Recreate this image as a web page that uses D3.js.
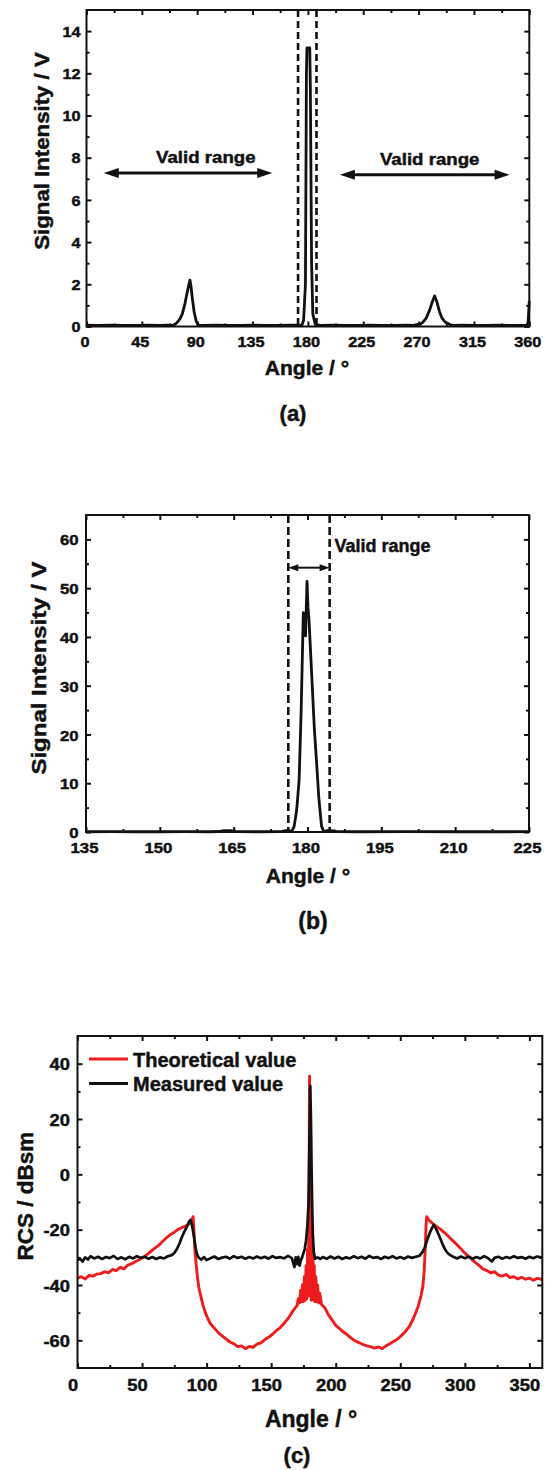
<!DOCTYPE html>
<html>
<head>
<meta charset="utf-8">
<script src="https://cdn.jsdelivr.net/npm/d3@7"></script>
<style>
  body { margin: 0; background: #fff; }
  svg { display: block; }
  text { font-family: "Liberation Sans", Arial, sans-serif; font-weight: bold; fill: #111; stroke: #111; stroke-width: 0.45px; }
</style>
</head>
<body>
<svg width="548" height="1470"></svg>
<script>
// ---- (a) signal over the full turn
let aSignal = [[0,0.06],[10,0.05],[20,0.06],[30,0.05],[40,0.05],[50,0.06],[60,0.05],[66,0.06],[70.2,0.05],[73,0.15],[75.9,0.35],[77.9,0.6],[80.1,1.1],[81.8,1.6],[83.3,2.0],[84.1,2.2],[85,1.9],[86.1,1.3],[87.5,0.7],[89.2,0.25],[91,0.05],[95,0.05],[105,0.06],[115,0.05],[125,0.05],[135,0.06],[145,0.05],[155,0.05],[165,0.06],[170,0.06],[175,0.05],[176.5,0.3],[178,2],[178.8,12],[179.2,13.2],[181.5,13.2],[182,11.3],[183,3],[184,0.6],[186,0.1],[190,0.05],[200,0.06],[210,0.05],[220,0.05],[230,0.06],[240,0.05],[250,0.05],[260,0.06],[266,0.05],[269,0.1],[271,0.08],[273.4,0.2],[276.2,0.4],[279.1,0.8],[281.3,1.2],[283,1.45],[284.7,1.2],[287,0.7],[289,0.4],[291.8,0.2],[296,0.08],[299,0.05],[305,0.06],[315,0.05],[325,0.05],[335,0.06],[345,0.05],[355,0.05],[358,0.05],[359,0.2],[360,1.2]]
let aXTicks = [0, 45, 90, 135, 180, 225, 270, 315, 360]
let aYTicks = [0, 2, 4, 6, 8, 10, 12, 14]
let aDash = [172, 187]
let aArrows = [[14, 151, 7.27], [206, 344, 7.19]]
let aNotes = [[97, 7.75], [279, 7.66]]

// ---- (b) close-up around 180
let bSignal = [[135,0.05],[140,0.06],[145,0.05],[150,0.05],[155,0.06],[160,0.05],[162,0.1],[163,0.3],[164.4,0.3],[165.5,0.08],[170,0.05],[174.7,0.06],[175.5,0.3],[176.4,0.25],[176.8,0.1],[177.3,1.2],[177.8,4.5],[178.3,10.7],[178.7,24.4],[179,38],[179.15,45],[179.35,44],[179.6,40.2],[179.9,51.4],[180.1,46],[180.3,43.6],[180.9,31.3],[181.4,21],[181.85,14.2],[182.3,7],[182.85,1.2],[183.3,0.1],[184,0.3],[185.5,0.25],[186,0.06],[190,0.05],[200,0.06],[210,0.05],[220,0.05],[225,0.06]]
let bXTicks = [135, 150, 165, 180, 195, 210, 225]
let bYTicks = [0, 10, 20, 30, 40, 50, 60]
let bDash = [176.1, 184.5]
let bArrow = [176.1, 184.5, 54.2]
let bNote = [185.5, 57.5]

// ---- (c) RCS, theory vs measurement
let cTheory = [[0,-37.5],[3,-37],[6,-37.8],[9,-36.5],[12,-36.8],[15,-36],[18,-35.9],[21,-35.2],[24,-35.6],[27,-34.4],[30,-34.8],[33,-33.6],[36,-34.2],[39,-32.8],[42,-32.3],[45,-31.5],[48,-30.8],[51,-30],[54,-28.9],[57,-27.8],[60,-26.7],[63,-25.6],[66,-24.2],[69,-22.9],[72,-21.8],[75,-20.9],[78,-19.9],[81,-19.2],[84,-18.6],[86,-18.1],[88,-17.2],[89.5,-15.3],[90.3,-21],[91,-28],[92,-33],[93,-37.5],[94,-41],[95.5,-44],[97,-47],[99,-50],[101,-52.2],[103,-54],[106,-55.6],[109,-57.2],[112,-58.4],[115,-59.5],[118,-60.6],[121,-61.2],[124,-62.3],[127,-62],[130,-63],[133,-62.2],[136,-62.5],[139,-61.4],[142,-60.9],[145,-59.8],[148,-58.9],[151,-57.8],[154,-56.5],[157,-55.4],[160,-53.8],[163,-52.2],[166,-50],[169,-48],[170,-47.5],[171,-45],[172,-46.5],[172.8,-42],[173.5,-46],[174.2,-40],[175,-46],[175.7,-37],[176.4,-45.5],[177,-33],[177.6,-45],[178.2,-27],[178.8,-44],[179.2,-15],[179.7,35.5],[180.2,5],[180.6,-30],[181,-45.5],[181.4,-22],[181.9,-45],[182.4,-28],[182.9,-45.5],[183.4,-33],[184,-46],[184.6,-37],[185.3,-46],[186,-40],[186.8,-46.5],[187.6,-43],[189,-47],[190,-47.5],[192,-48.5],[194,-50.5],[197,-52.5],[200,-54.6],[203,-55.8],[206,-57],[209,-58],[212,-59.2],[215,-60.2],[218,-60.8],[221,-61.5],[224,-62],[227,-62.3],[230,-62.8],[233,-62.4],[236,-63],[239,-62],[242,-61.2],[245,-60.3],[248,-59.5],[251,-58.2],[254,-56.8],[257,-55],[260,-52.3],[262,-50],[264,-47.5],[266,-44],[267.5,-40.5],[268.5,-35],[269.3,-27],[270,-18],[270.5,-15.3],[272,-16.5],[275,-17.7],[278,-18.8],[281,-19.8],[284,-21],[287,-22.3],[290,-23.7],[293,-25],[296,-26.4],[299,-28],[302,-29.3],[305,-30.5],[308,-31.8],[311,-32.9],[314,-34.2],[317,-34.8],[320,-35.6],[323,-35.2],[326,-36.4],[329,-36.8],[332,-36.2],[335,-37.3],[338,-37],[341,-37.8],[344,-37.2],[347,-37.9],[350,-37.5],[353,-38.3],[356,-37.6],[360,-38]]
let cMeasured = [[0,-31],[2,-30.5],[4,-31.5],[6,-30],[8,-30.8],[10,-29.6],[13,-30.4],[16,-29.8],[19,-30.6],[22,-29.9],[25,-30.3],[28,-29.5],[31,-30.6],[34,-30],[37,-30.7],[40,-29.8],[43,-30.4],[46,-29.6],[49,-30.2],[52,-29.8],[55,-30.5],[58,-29.9],[61,-30.6],[64,-30],[67,-30.4],[70,-29.6],[73,-29.2],[75,-28.4],[77,-27],[79,-25],[81,-22.5],[83,-20.5],[85,-18.6],[86.5,-17],[87.5,-16.5],[88.5,-18],[89.5,-20.5],[90.5,-23.5],[91.5,-26.5],[92.5,-28.8],[94,-30.2],[96,-30.8],[98,-29.9],[100,-31],[103,-30.3],[106,-29.7],[109,-30.6],[112,-30.1],[115,-29.8],[118,-30.5],[121,-29.6],[124,-30.2],[127,-29.8],[130,-30.5],[133,-29.9],[136,-30.4],[139,-29.7],[142,-30.3],[145,-29.8],[148,-30.5],[151,-29.6],[154,-30.2],[157,-29.9],[160,-30.4],[163,-29.5],[166,-30.3],[168,-33.5],[169,-30],[170,-32.5],[171,-29.8],[172,-33],[173,-31],[174,-30],[175,-28.5],[176,-27],[177,-24],[178,-19],[179,-10],[179.6,10],[180.3,32],[180.8,20],[181.3,2],[181.8,-12],[182.3,-22],[183,-28],[184,-30.5],[186,-30],[188,-30.6],[190,-29.9],[193,-30.5],[196,-29.7],[199,-30.4],[202,-29.8],[205,-30.6],[208,-30],[211,-30.4],[214,-29.6],[217,-30.3],[220,-29.8],[223,-30.5],[226,-29.5],[229,-30.2],[232,-29.9],[235,-30.6],[238,-29.8],[241,-30.3],[244,-29.6],[247,-30.4],[250,-29.9],[253,-30.5],[256,-29.7],[259,-30.2],[262,-29.8],[265,-29.4],[267,-28.2],[269,-26.5],[271,-23.5],[273,-21],[275,-19],[276,-18.3],[277,-19],[279,-21],[281,-23.2],[283,-25.5],[285,-27.4],[287,-28.6],[289,-29.3],[291,-29.8],[294,-30.4],[297,-29.7],[300,-30.3],[303,-29.8],[306,-30.5],[309,-29.9],[312,-30.4],[315,-29.6],[318,-30.3],[321,-31.5],[323,-30.2],[326,-29.8],[329,-30.5],[332,-29.9],[335,-30.3],[338,-29.6],[341,-30.2],[344,-29.9],[347,-30.5],[350,-29.8],[353,-30.3],[356,-29.7],[360,-30.1]]
let cXTicks = [0, 50, 100, 150, 200, 250, 300, 350]
let cYTicks = [-60, -40, -20, 0, 20, 40]
let cLegend = ['Theoretical value', 'Measured value']

let svg = d3.select('svg')
let ink = '#111'
let red = '#ee1c1c'

let midpoints = (ticks) => ticks.slice(1).map((t, i) => (t + ticks[i]) / 2)

let addText = (g, x, y, str, size, sx, anchor, rotate) => {
  return g.append('text')
    .attr('transform', 'translate(' + x + ',' + y + ')' + (rotate ? ' rotate(-90)' : '') + ' scale(' + sx + ',1)')
    .attr('text-anchor', anchor)
    .style('font-size', size + 'px')
    .text(str)
}

// one set of ticks on one side; labels only on bottom/left majors
// lab.gap: baseline offset below the axis (bottom) or gap to the axis (left)
let drawTicks = (g, side, scale, offset, values, size, lab) => {
  let fn = {bottom: d3.axisBottom, top: d3.axisTop, left: d3.axisLeft, right: d3.axisRight}[side]
  let axis = fn(scale).tickValues(values).tickSizeInner(-size).tickSizeOuter(0)
    .tickFormat(lab ? (d) => String(d) : '')
  let vertical = side === 'left' || side === 'right'
  let ag = g.append('g')
    .attr('transform', vertical ? 'translate(' + offset + ',0)' : 'translate(0,' + offset + ')')
    .call(axis)
  ag.select('.domain').remove()
  ag.selectAll('.tick line').attr('stroke', ink).attr('stroke-width', 2)
  if (!lab) { ag.selectAll('.tick text').remove(); return }
  let t = ag.selectAll('.tick text')
    .style('font-size', lab.size + 'px')
    .attr('fill', ink)
    .attr('transform', 'scale(' + lab.sx + ',1)')
  if (vertical) t.attr('x', -lab.gap / lab.sx).attr('dy', '0.36em')
  else t.attr('y', lab.gap).attr('dy', null).attr('x', (lab.dx || 0) / lab.sx)
}

let drawPanel = (p) => {
  let xScale = d3.scaleLinear().domain(p.xDomain).range([p.left, p.right])
  let yScale = d3.scaleLinear().domain(p.yDomain).range([p.bottom, p.top])
  let g = svg.append('g')

  drawTicks(g, 'bottom', xScale, p.bottom, midpoints(p.xTicks), 3)
  drawTicks(g, 'top', xScale, p.top, midpoints(p.xTicks), 3)
  drawTicks(g, 'left', yScale, p.left, midpoints(p.yTicks), 3)
  drawTicks(g, 'right', yScale, p.right, midpoints(p.yTicks), 3)
  drawTicks(g, 'bottom', xScale, p.bottom, p.xTicks, 5, p.xLab)
  drawTicks(g, 'top', xScale, p.top, p.xTicks, 5)
  drawTicks(g, 'left', yScale, p.left, p.yTicks, 5, p.yLab)
  drawTicks(g, 'right', yScale, p.right, p.yTicks, 5)

  let line = d3.line().x((d) => xScale(d[0])).y((d) => yScale(d[1]))
  p.series.forEach((s) => {
    g.append('path').datum(s.data)
      .attr('d', line)
      .attr('fill', 'none')
      .attr('stroke', s.color)
      .attr('stroke-width', s.width)
      .attr('stroke-linejoin', 'round')
  })

  g.append('rect')
    .attr('x', p.left).attr('y', p.top)
    .attr('width', p.right - p.left).attr('height', p.bottom - p.top)
    .attr('fill', 'none').attr('stroke', ink).attr('stroke-width', 2)

  let yt = p.yTitle
  addText(g, yt.x, yt.y, yt.text, yt.size, yt.sx, 'middle', true)
  let xt = p.xTitle
  addText(g, xt.x, xt.y, 'Angle / \u00b0', xt.size, xt.sx, 'middle')
  let pl = p.panel
  addText(g, pl.x, pl.y, pl.text, pl.size, pl.sx, 'middle')

  return {g: g, xScale: xScale, yScale: yScale}
}

let drawDashes = (panel, values, top, bottom, dash) => {
  values.forEach((v) => {
    panel.g.append('line')
      .attr('x1', panel.xScale(v)).attr('x2', panel.xScale(v))
      .attr('y1', top).attr('y2', bottom)
      .attr('stroke', ink).attr('stroke-width', 2.6)
      .attr('stroke-dasharray', dash)
  })
}

let drawArrow = (panel, from, to, level, head, half, width) => {
  let x1 = panel.xScale(from)
  let x2 = panel.xScale(to)
  let y = panel.yScale(level)
  panel.g.append('line')
    .attr('x1', x1 + head * 0.5).attr('x2', x2 - head * 0.5)
    .attr('y1', y).attr('y2', y)
    .attr('stroke', ink).attr('stroke-width', width)
  panel.g.append('path')
    .attr('d', 'M' + x1 + ',' + y + 'L' + (x1 + head) + ',' + (y - half) + 'L' + (x1 + head) + ',' + (y + half) + 'Z')
    .attr('fill', ink)
  panel.g.append('path')
    .attr('d', 'M' + x2 + ',' + y + 'L' + (x2 - head) + ',' + (y - half) + 'L' + (x2 - head) + ',' + (y + half) + 'Z')
    .attr('fill', ink)
}

// ---- (a)
let pa = drawPanel({
  left: 86.5, right: 529.3, top: 10, bottom: 326.5,
  xDomain: [0, 360], yDomain: [0, 15],
  xTicks: aXTicks, yTicks: aYTicks,
  xLab: {size: 14.5, sx: 1.12, gap: 20.5, dx: -2},
  yLab: {size: 14.5, sx: 1.12, gap: 6},
  series: [{data: aSignal, color: ink, width: 2.8}],
  yTitle: {x: 48.5, y: 151, text: 'Signal Intensity / V', size: 19.5, sx: 1.14},
  xTitle: {x: 307, y: 375, size: 19.5, sx: 1.08},
  panel: {x: 293, y: 421, text: '(a)', size: 22, sx: 1}
})
drawDashes(pa, aDash, 10, 326.5, '7,4')
aArrows.forEach((a) => drawArrow(pa, a[0], a[1], a[2], 15, 5, 3))
aNotes.forEach((n) => addText(pa.g, pa.xScale(n[0]), pa.yScale(n[1]), 'Valid range', 16.5, 1.13, 'middle'))

// ---- (b)
let pb = drawPanel({
  left: 86, right: 529, top: 515, bottom: 832,
  xDomain: [135, 225], yDomain: [0, 65],
  xTicks: bXTicks, yTicks: bYTicks,
  xLab: {size: 15.5, sx: 1.08, gap: 21, dx: -2},
  yLab: {size: 15.5, sx: 1.08, gap: 7.5},
  series: [{data: bSignal, color: ink, width: 2.8}],
  yTitle: {x: 46.3, y: 668, text: 'Signal Intensity / V', size: 20.5, sx: 1.17},
  xTitle: {x: 308, y: 883.3, size: 19.5, sx: 1.08},
  panel: {x: 313, y: 929, text: '(b)', size: 23, sx: 1}
})
drawDashes(pb, bDash, 515, 832, '8,4')
drawArrow(pb, bArrow[0], bArrow[1], bArrow[2], 10, 3.5, 2)
addText(pb.g, pb.xScale(bNote[0]), pb.yScale(bNote[1]), 'Valid range', 18, 1, 'start')

// ---- (c)
let pc = drawPanel({
  left: 77.5, right: 542.3, top: 1036, bottom: 1368,
  xDomain: [0, 360], yDomain: [-70, 50],
  xTicks: cXTicks, yTicks: cYTicks,
  xLab: {size: 17, sx: 1.08, gap: 23.5, dx: -5},
  yLab: {size: 17, sx: 1.08, gap: 7.5},
  series: [{data: cTheory, color: red, width: 2.9}, {data: cMeasured, color: ink, width: 2.7}],
  yTitle: {x: 33.3, y: 1196, text: 'RCS / dBsm', size: 22.5, sx: 1},
  xTitle: {x: 311, y: 1427, size: 23, sx: 1},
  panel: {x: 297, y: 1463, text: '(c)', size: 22, sx: 1}
})
let legendColors = [red, ink]
cLegend.forEach((name, i) => {
  let y = 1059 + i * 24.5
  pc.g.append('line')
    .attr('x1', 89).attr('x2', 128).attr('y1', y).attr('y2', y)
    .attr('stroke', legendColors[i]).attr('stroke-width', 3.2)
  addText(pc.g, 133, y + 7.5, name, 20, 1, 'start')
})
</script>
</body>
</html>
